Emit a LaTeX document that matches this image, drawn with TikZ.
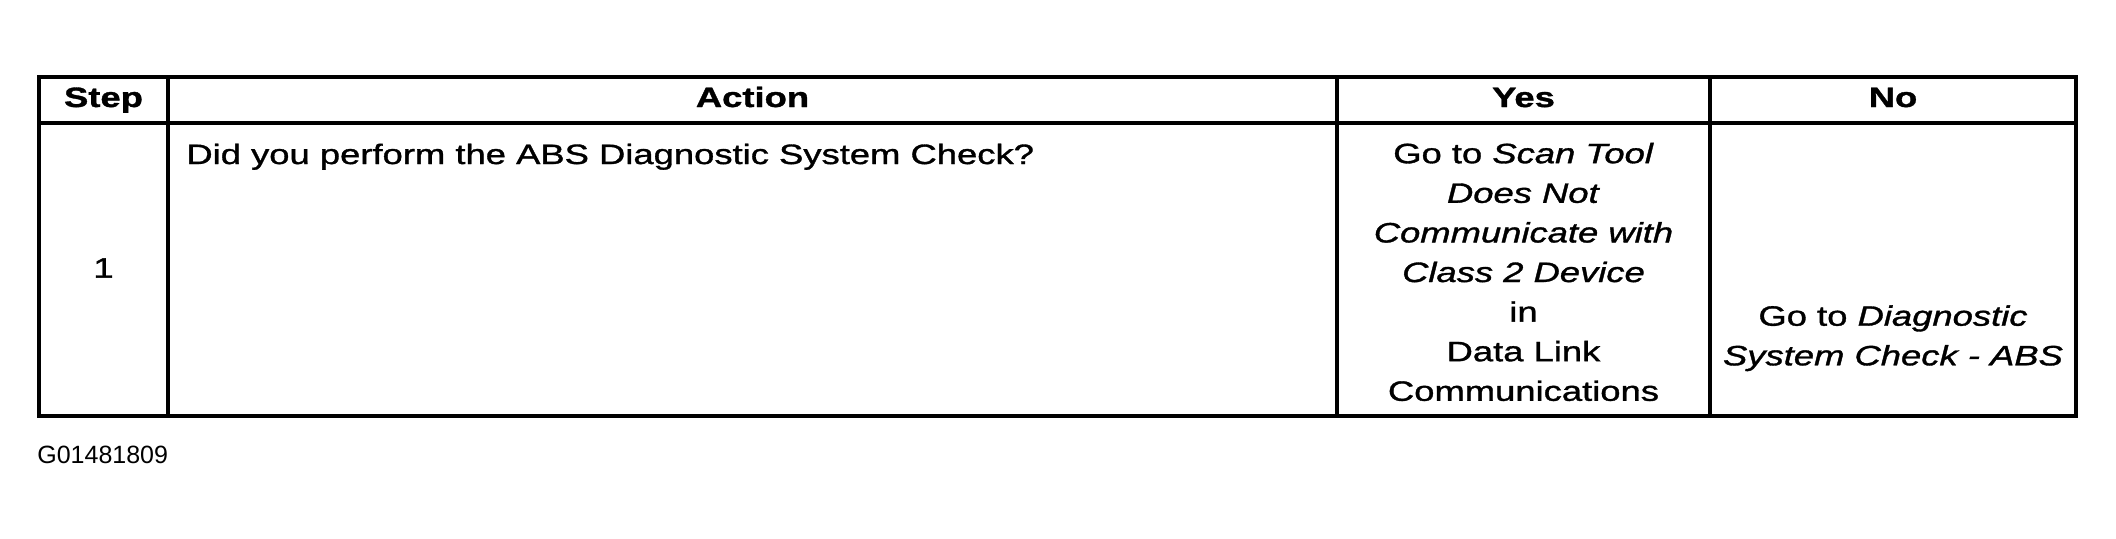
\documentclass[tikz,border=0pt]{standalone}
\usepackage{fontspec}
\setmainfont{Liberation Sans}
\newfontfamily\widefont[FakeStretch=1.3,FakeBold=1.2]{Liberation Sans}

\begin{document}
\begin{tikzpicture}
    [x=0.5pt,y=-0.5pt,inner sep=0pt,
     cell/.style={font=\widefont\fontsize{14pt}{19.8pt}\selectfont},
     head/.style={font=\widefont\bfseries\fontsize{14pt}{19.8pt}\selectfont,anchor=base},
     rule/.style={line width=1.75pt}]
\useasboundingbox (0,0) rectangle (2116,538);

% frame and rules
\coordinate (tl) at (39,77);
\coordinate (br) at (2076,416);
\draw[rule] (tl) rectangle (br);
\draw[rule] (39,123) -- (2076,123);
\foreach \x in {168,1337,1710}
    \draw[rule] (\x,77) -- (\x,416);

% header row
\node[head](step) at (103.5,107) {Step};
\node[head](action) at (752.5,107) {Action};
\node[head](yes) at (1523.5,107) {Yes};
\node[head](no) at (1893,107) {No};

% step 1
\node[cell](num) at (103.5,268) {1};
\node[cell,anchor=base west](ask) at (186,164)
    {Did you perform the ABS Diagnostic System Check?};
\node[cell,anchor=north,align=center](goyes) at (1523.5,142.5)
    {Go to \textit{Scan Tool}\\ \textit{Does Not}\\ \textit{Communicate with}\\
     \textit{Class 2 Device}\\ in\\ Data Link\\ Communications};
\node[cell,anchor=north,align=center](gono) at (1893,305)
    {Go to \textit{Diagnostic}\\ \textit{System Check - ABS}};

\node[anchor=base west,font=\fontsize{12.5pt}{15pt}\selectfont](fig) at (37,463) {G01481809};
\end{tikzpicture}
\end{document}
